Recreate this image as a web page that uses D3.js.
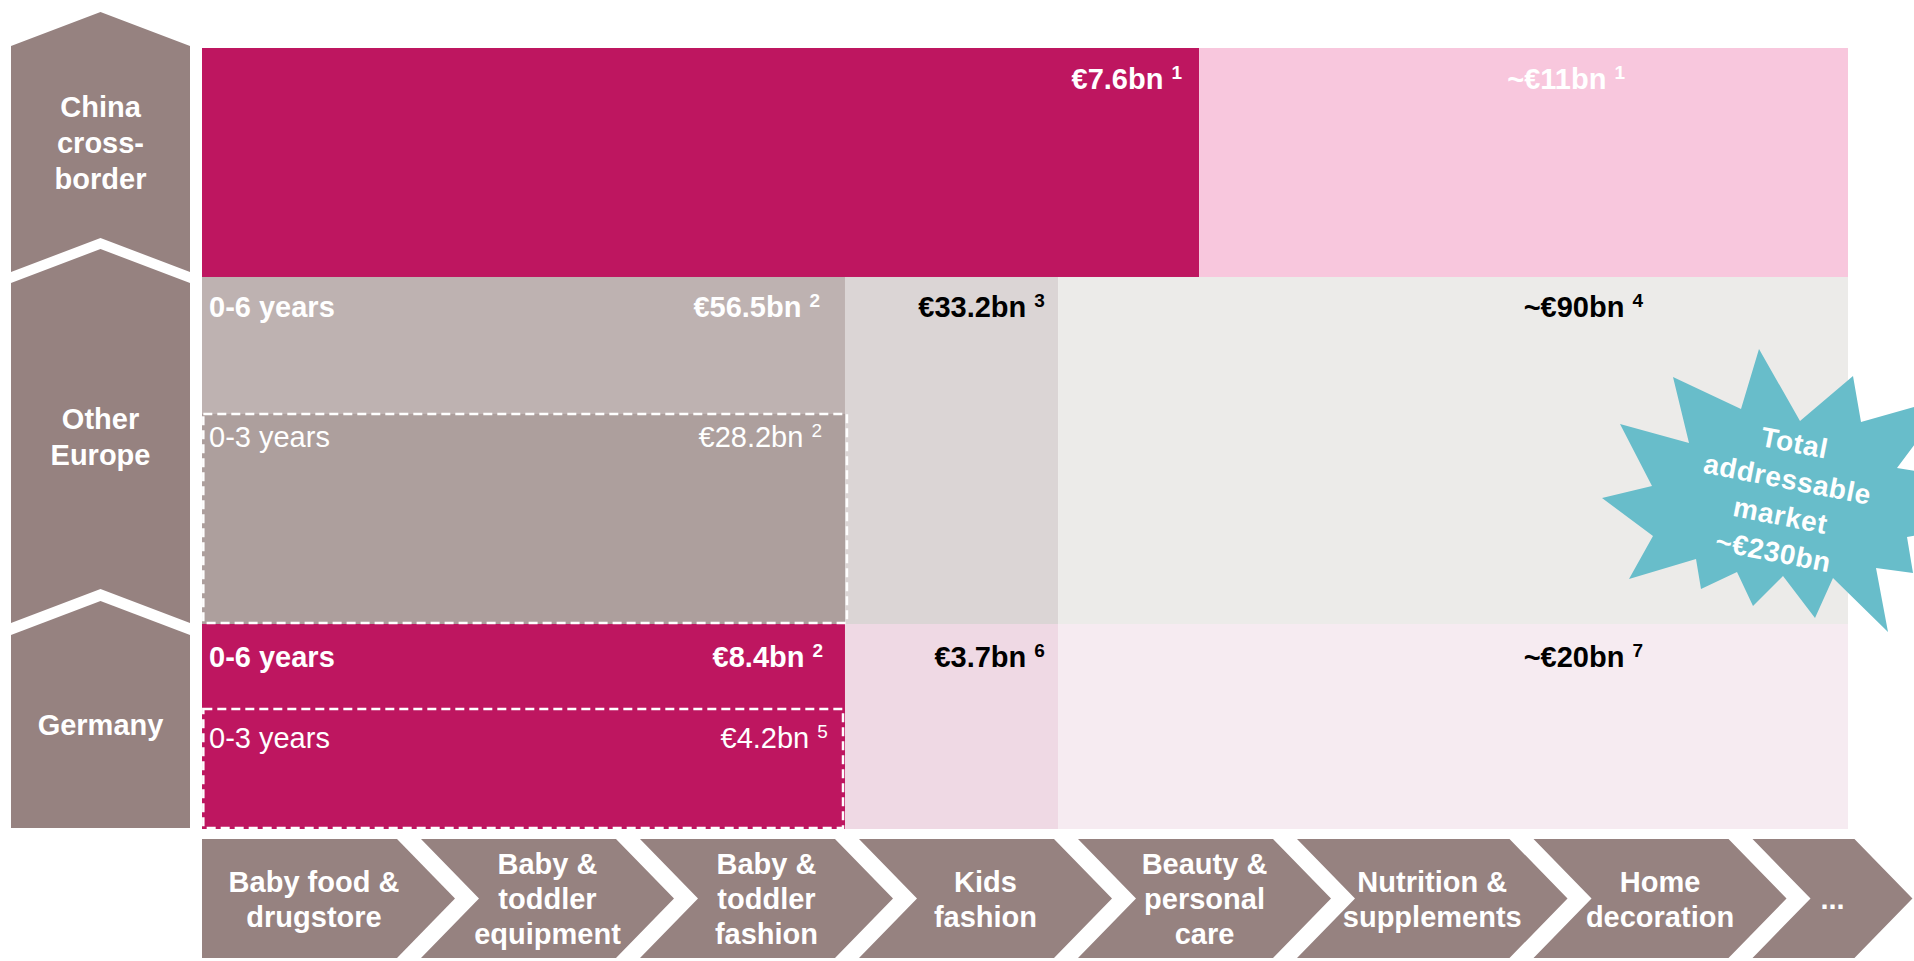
<!DOCTYPE html>
<html>
<head>
<meta charset="UTF-8">
<title>Addressable market</title>
<script src="https://d3js.org/d3.v7.min.js"></script>
<style>
body { margin: 0; background: #fff; }
svg { display: block; font-family: "Liberation Sans", Arial, sans-serif; }
</style>
</head>
<body>
<div id="container"></div>
<script>
// regions (rows) and product categories (bottom chevrons)
var regions = ["China cross-border", "Other Europe", "Germany"];
var regionLines = [["China", "cross-", "border"], ["Other", "Europe"], ["Germany"]];
var categories = [["Baby food &", "drugstore"], ["Baby &", "toddler", "equipment"], ["Baby &", "toddler", "fashion"],
                  ["Kids", "fashion"], ["Beauty &", "personal", "care"], ["Nutrition &", "supplements"],
                  ["Home", "decoration"], ["..."]];

// market size per segment
var segRegion = [0, 0, 1, 1, 1, 1, 2, 2, 2, 2];
var segValue  = ["€7.6bn", "~€11bn", "€56.5bn", "€33.2bn", "~€90bn", "€28.2bn", "€8.4bn", "€3.7bn", "~€20bn", "€4.2bn"];
var segNote   = ["1", "1", "2", "3", "4", "2", "2", "6", "7", "5"];
var segAge    = ["", "", "0-6 years", "", "", "0-3 years", "0-6 years", "", "", "0-3 years"];
var totalText = ["Total", "addressable", "market", "~€230bn"];

// layout (category units across, fraction of grid height down)
var MAG = "#BE1660";
var segLayout = [
    {x0: 0,     x1: 4.553, y0: 0,      y1: 0.2932, end: 4.475, dy: 41, fill: MAG,       ink: "#fff", bold: true},
    {x0: 4.553, x1: 7.516, y0: 0,      y1: 0.2932, end: 6.498, dy: 41, fill: "#F8C7DD", ink: "#fff", bold: true},
    {x0: 0,     x1: 2.936, y0: 0.2932, y1: 0.7375, end: 2.822, dy: 40, fill: "#BEB2B1", ink: "#fff", bold: true},
    {x0: 2.936, x1: 3.909, y0: 0.2932, y1: 0.7375, end: 3.849, dy: 40, fill: "#DBD5D5", ink: "#000", bold: true},
    {x0: 3.909, x1: 7.516, y0: 0.2932, y1: 0.7375, end: 6.580, dy: 40, fill: "#ECEBE9", ink: "#000", bold: true},
    {x0: 0,     x1: 2.936, y0: 0.4686, y1: 0.7375, end: 2.831, dy: 33, fill: "#AD9F9D", ink: "#fff", bold: false, dash: [0.006, 2.945]},
    {x0: 0,     x1: 2.936, y0: 0.7375, y1: 1,      end: 2.836, dy: 43, fill: MAG,       ink: "#fff", bold: true},
    {x0: 2.936, x1: 3.909, y0: 0.7375, y1: 1,      end: 3.849, dy: 43, fill: "#EFD9E4", ink: "#000", bold: true},
    {x0: 3.909, x1: 7.516, y0: 0.7375, y1: 1,      end: 6.580, dy: 43, fill: "#F6EBF1", ink: "#000", bold: true},
    {x0: 0,     x1: 2.936, y0: 0.8464, y1: 1,      end: 2.858, dy: 39, fill: MAG,       ink: "#fff", bold: false, dash: [0.006, 2.927]}
];
var catWidth = [1, 1, 1, 1, 1, 1.08, 1, 0.575];
var regionArrow = [{top: 46, bottom: 272, notch: true, dy: 0}, {top: 283, bottom: 623, notch: true, dy: 0}, {top: 635, bottom: 828, notch: false, dy: 10}];
var burst = [[-25,-141],[16,-69],[69,-114],[77,-68],[166,-93],[113,-22],[316,10],[123,47],[129,83],[92,78],[104,142],
             [49,88],[31,128],[-1,86],[-31,116],[-47,82],[-83,99],[-88,69],[-155,89],[-131,46],[-182,8],[-132,-4],
             [-164,-66],[-95,-47],[-111,-113],[-43,-81]];

var W = 1914, H = 961, FS = 29, GREY = "#968280";
var x = d3.scaleLinear().domain([0, 8]).range([202, 202 + 8 * 219]);
var y = d3.scaleLinear().domain([0, 1]).range([48, 829]);

var svg = d3.select("#container").append("svg")
    .attr("width", W)
    .attr("height", H);

// market blocks
var segs = segValue.map(function(v, i) {
    return Object.assign({value: v, note: segNote[i], age: segAge[i], region: segRegion[i]}, segLayout[i]);
});

svg.selectAll(".seg")
    .data(segs)
    .enter().append("rect")
    .attr("class", "seg")
    .attr("x", function(d) { return x(d.x0); })
    .attr("y", function(d) { return y(d.y0); })
    .attr("width", function(d) { return x(d.x1) - x(d.x0); })
    .attr("height", function(d) { return y(d.y1) - y(d.y0); })
    .attr("fill", function(d) { return d.fill; });

// dashed sub-boxes (0-3 years)
svg.selectAll(".dash")
    .data(segs.filter(function(d) { return d.dash; }))
    .enter().append("rect")
    .attr("class", "dash")
    .attr("x", function(d) { return x(d.dash[0]); })
    .attr("y", function(d) { return y(d.y0); })
    .attr("width", function(d) { return x(d.dash[1]) - x(d.dash[0]); })
    .attr("height", function(d) { return y(d.y1) - y(d.y0) - 1; })
    .attr("fill", "none")
    .attr("stroke", "#fff")
    .attr("stroke-width", 2.5)
    .attr("stroke-dasharray", "9,5");

// value labels with footnote
var vl = svg.selectAll(".val")
    .data(segs)
    .enter().append("text")
    .attr("class", "val")
    .attr("x", function(d) { return x(d.end); })
    .attr("y", function(d) { return y(d.y0) + d.dy; })
    .attr("text-anchor", "end")
    .attr("font-size", FS)
    .attr("font-weight", function(d) { return d.bold ? "bold" : "normal"; })
    .attr("fill", function(d) { return d.ink; });
vl.append("tspan").text(function(d) { return d.value + " "; });
vl.append("tspan")
    .attr("font-size", 19)
    .attr("dy", -10)
    .text(function(d) { return d.note; });

// age labels
svg.selectAll(".age")
    .data(segs.filter(function(d) { return d.age; }))
    .enter().append("text")
    .attr("class", "age")
    .attr("x", x(0) + 7)
    .attr("y", function(d) { return y(d.y0) + d.dy; })
    .attr("font-size", FS)
    .attr("font-weight", function(d) { return d.bold ? "bold" : "normal"; })
    .attr("fill", "#fff")
    .text(function(d) { return d.age; });

// region chevrons on the left
var ax0 = 11, ax1 = 190, tip = 34, axm = (ax0 + ax1) / 2;
var reg = svg.selectAll(".reg")
    .data(regions)
    .enter().append("g")
    .attr("class", "reg");
reg.append("path")
    .attr("fill", GREY)
    .attr("d", function(d, i) {
        var a = regionArrow[i];
        var pts = [[ax0, a.top], [axm, a.top - tip], [ax1, a.top], [ax1, a.bottom]];
        if (a.notch) pts.push([axm, a.bottom - tip]);
        pts.push([ax0, a.bottom]);
        return d3.line()(pts) + "Z";
    });
reg.append("text")
    .attr("text-anchor", "middle")
    .attr("font-size", FS)
    .attr("font-weight", "bold")
    .attr("fill", "#fff")
    .each(function(d, i) {
        var a = regionArrow[i], lines = regionLines[i];
        var cy = (a.top - tip + a.bottom) / 2 + a.dy;
        d3.select(this).selectAll("tspan")
            .data(lines)
            .enter().append("tspan")
            .attr("x", axm)
            .attr("y", function(l, k) { return cy + 10.5 + (k - (lines.length - 1) / 2) * 36; })
            .text(function(l) { return l; });
    });

// category chevrons along the bottom
var cTop = 839, cBot = 958, cMid = (cTop + cBot) / 2, cTip = 58, cGap = 24;
var cum = 0;
var cats = categories.map(function(c, i) {
    var o = {lines: c, i: i, left: x(cum), right: x(cum + catWidth[i]) - cGap};
    cum += catWidth[i];
    return o;
});
var cat = svg.selectAll(".cat")
    .data(cats)
    .enter().append("g")
    .attr("class", "cat");
cat.append("path")
    .attr("fill", GREY)
    .attr("d", function(d) {
        var pts = [[d.left, cTop], [d.right, cTop], [d.right + cTip, cMid], [d.right, cBot], [d.left, cBot]];
        if (d.i > 0) pts.push([d.left + cTip, cMid]);
        return d3.line()(pts) + "Z";
    });
cat.append("text")
    .attr("text-anchor", "middle")
    .attr("font-size", FS)
    .attr("font-weight", "bold")
    .attr("fill", "#fff")
    .each(function(d) {
        var cx = (d.left + d.right + cTip) / 2 - (d.i === 0 ? cTip / 4 : 0);
        d3.select(this).selectAll("tspan")
            .data(d.lines)
            .enter().append("tspan")
            .attr("x", cx)
            .attr("y", function(l, k) { return cMid + 10.5 + (k - (d.lines.length - 1) / 2) * 35; })
            .text(function(l) { return l; });
    });

// total addressable market starburst
var bx = 1784, by = 490;
svg.append("path")
    .attr("fill", "#68BDCA")
    .attr("d", d3.line().curve(d3.curveLinearClosed)(burst.map(function(p) { return [bx + p[0], by + p[1]]; })));
svg.append("text")
    .attr("transform", "rotate(11," + bx + "," + (by + 7) + ")")
    .attr("text-anchor", "middle")
    .attr("font-size", 28)
    .attr("font-weight", "bold")
    .attr("letter-spacing", 0.6)
    .attr("fill", "#fff")
    .selectAll("tspan")
    .data(totalText)
    .enter().append("tspan")
    .attr("x", bx)
    .attr("y", function(l, k) { return by + 7 + 10 + (k - 1.5) * 37; })
    .text(function(l) { return l; });
</script>
</body>
</html>
